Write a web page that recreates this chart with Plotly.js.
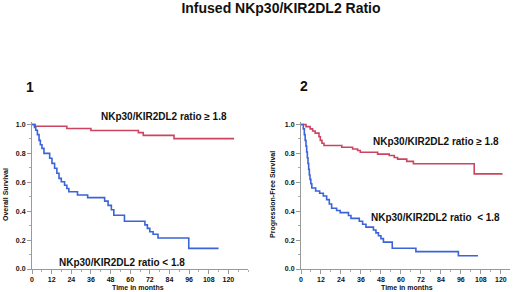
<!DOCTYPE html>
<html>
<head>
<meta charset="utf-8">
<script src="https://cdn.plot.ly/plotly-3.0.1.min.js"></script>
<style>html,body{margin:0;padding:0;background:#fff;}#chart{width:520px;height:292px;}</style>
</head>
<body>
<div id="chart"></div>
<script>
// ---- Data ----
// Panel 1: Overall Survival
const osHighTime = [0, 2, 21.3, 36, 65, 68, 86.8, 123.5];
const osHighSurv = [1.0, 0.988, 0.972, 0.958, 0.944, 0.925, 0.902, 0.902];
const osLowTime = [0, 1.5, 2.3, 3.3, 4.3, 5.1, 6.1, 7.3, 10.8, 12.2, 13.8, 15.2, 16.5, 17.9, 19.9, 21.3, 22.5, 27.8, 34, 44.4, 46.5, 48.5, 50, 56.5, 69, 70.5, 72, 74, 77, 95.8, 114];
const osLowSurv = [1.0, 0.98, 0.96, 0.93, 0.89, 0.86, 0.835, 0.80, 0.766, 0.731, 0.697, 0.663, 0.627, 0.604, 0.58, 0.557, 0.535, 0.512, 0.494, 0.47, 0.44, 0.41, 0.372, 0.33, 0.305, 0.281, 0.258, 0.24, 0.214, 0.143, 0.143];
// Panel 2: Progression-Free Survival
const pfsHighTime = [0, 3, 5.5, 7, 8.5, 10.8, 11.6, 12.6, 13.8, 24.5, 31, 34, 35.6, 46, 53, 56, 58, 63.5, 67.5, 104, 121];
const pfsHighSurv = [1.0, 0.985, 0.97, 0.955, 0.94, 0.915, 0.89, 0.87, 0.855, 0.843, 0.83, 0.82, 0.808, 0.795, 0.785, 0.772, 0.76, 0.745, 0.728, 0.658, 0.658];
const pfsLowTime = [0, 1.4, 2, 2.5, 3, 3.4, 3.8, 4.2, 4.6, 5, 5.4, 5.9, 6.5, 8.8, 11.2, 13.4, 15.4, 17, 18.4, 21.4, 23.5, 28.5, 30, 35, 37, 39, 43.5, 45, 46.5, 48, 49.5, 54.8, 69, 94.5, 106.3];
const pfsLowSurv = [1.0, 0.97, 0.93, 0.89, 0.85, 0.81, 0.77, 0.73, 0.69, 0.65, 0.62, 0.59, 0.56, 0.54, 0.524, 0.505, 0.48, 0.45, 0.42, 0.405, 0.39, 0.37, 0.35, 0.33, 0.31, 0.29, 0.27, 0.25, 0.23, 0.21, 0.186, 0.144, 0.12, 0.092, 0.092];

const xTickVals = [0, 12, 24, 36, 48, 60, 72, 84, 96, 108, 120];
const yTickVals = [0, 0.2, 0.4, 0.6, 0.8, 1.0];
const chartTitle = 'Infused NKp30/KIR2DL2 Ratio';
const panelLabels = ['1', '2'];
const yTitles = ['Overall Survival', 'Progression-Free Survival'];
const xTitle = 'Time in months';
const groupHigh = 'NKp30/KIR2DL2 ratio \u2265 1.8';
const groupLow = 'NKp30/KIR2DL2 ratio < 1.8';
const groupLow2 = 'NKp30/KIR2DL2 ratio \u00a0< 1.8';

// ---- Styling ----
const W = 520, H = 292;
const RED = '#cc4460', BLUE = '#3a64d8';
const FONT = 'Liberation Sans, Arial, sans-serif';
const px = v => v / W;
const py = v => 1 - v / H;

function line(x, y, color, xa, ya) {
  return {x: x, y: y, type: 'scatter', mode: 'lines', line: {shape: 'hv', color: color, width: 1.6},
          xaxis: xa, yaxis: ya, hoverinfo: 'skip', showlegend: false};
}
const traces = [
  line(osHighTime, osHighSurv, RED, 'x', 'y'),
  line(osLowTime, osLowSurv, BLUE, 'x', 'y'),
  line(pfsHighTime, pfsHighSurv, RED, 'x2', 'y2'),
  line(pfsLowTime, pfsLowSurv, BLUE, 'x2', 'y2')
];

const tickFont = {family: FONT, size: 7, color: '#111', weight: 'bold'};
function xAxis(domain, range, anchor) {
  return {domain: domain, range: range, anchor: anchor, tickvals: xTickVals, ticks: 'outside', ticklen: 4,
          tickcolor: '#999', showline: true, linecolor: '#999', linewidth: 1, showgrid: false, zeroline: false,
          tickfont: tickFont, fixedrange: true,
          minor: {dtick: 6, tick0: 0, ticks: 'outside', ticklen: 2, tickcolor: '#aaa', showgrid: false}};
}
function yAxis(domain, anchor) {
  return {domain: domain, range: [0, 1.02], anchor: anchor, tickvals: yTickVals, tickformat: '.1f', ticks: 'outside', ticklen: 4,
          tickcolor: '#999', showline: true, linecolor: '#999', linewidth: 1, showgrid: false, zeroline: false,
          tickfont: tickFont, fixedrange: true,
          minor: {dtick: 0.1, tick0: 0, ticks: 'outside', ticklen: 2, tickcolor: '#aaa', showgrid: false}};
}
const yDom = [py(269), py(121.6)];

function ann(text, x, y, size, opts) {
  return Object.assign({text: text, x: px(x), y: py(y), xref: 'paper', yref: 'paper', showarrow: false,
          xanchor: 'center', yanchor: 'middle', font: {family: FONT, size: size, color: '#111', weight: 'bold'}}, opts || {});
}

const layout = {
  width: W, height: H,
  margin: {l: 0, r: 0, t: 0, b: 0},
  paper_bgcolor: '#fff', plot_bgcolor: '#fff',
  showlegend: false,
  title: {text: chartTitle, x: px(281), y: py(8.5), xref: 'paper', yref: 'paper', xanchor: 'center', yanchor: 'middle',
          font: {family: FONT, size: 14, color: '#111', weight: 'bold'}},
  xaxis: xAxis([px(32), px(248)], [0, 132], 'y'),
  yaxis: yAxis(yDom, 'x'),
  xaxis2: xAxis([px(301), px(510)], [0, 125.5], 'y2'),
  yaxis2: yAxis(yDom, 'x2'),
  annotations: [
    ann(panelLabels[0], 30, 87, 14),
    ann(panelLabels[1], 304, 86, 14),
    ann(groupHigh, 163.5, 117, 10),
    ann(groupLow, 121.5, 262, 10),
    ann(groupHigh, 436, 142, 10),
    ann(groupLow2, 435, 217, 10),
    ann(yTitles[0], 5, 195, 7, {textangle: -90}),
    ann(yTitles[1], 273, 195, 7, {textangle: -90}),
    ann(xTitle, 138, 287, 7),
    ann(xTitle, 407, 287, 7)
  ]
};

Plotly.newPlot('chart', traces, layout, {displayModeBar: false, staticPlot: true});
</script>
</body>
</html>
